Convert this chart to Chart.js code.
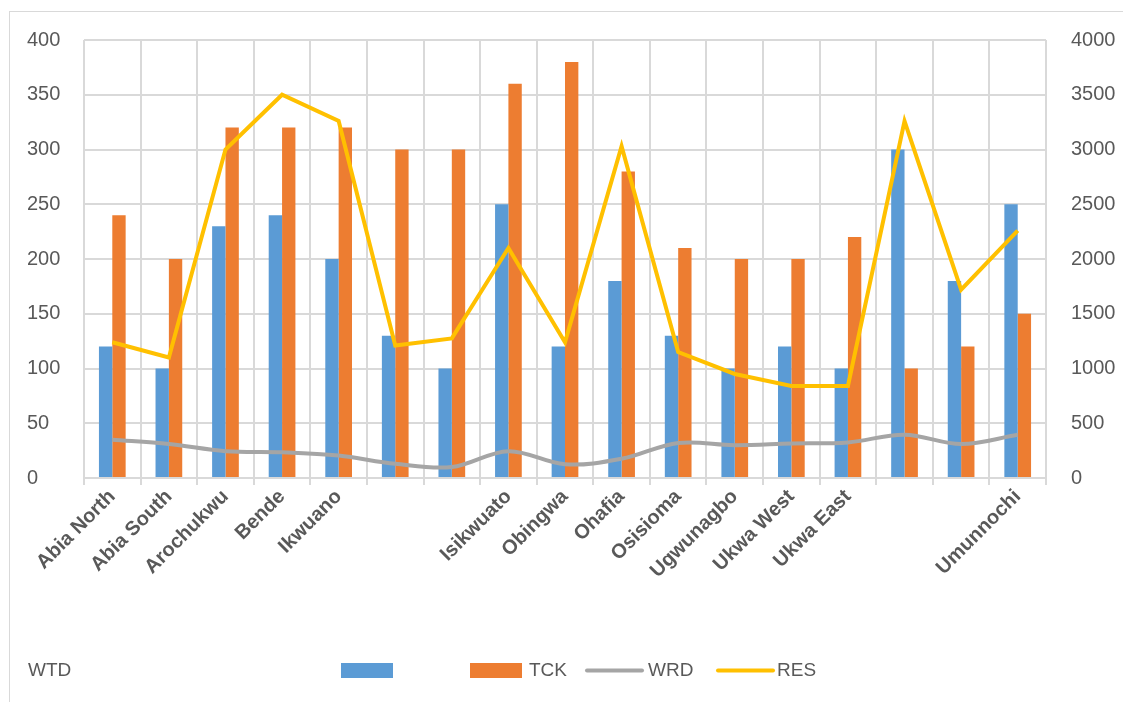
<!DOCTYPE html>
<html>
<head>
<meta charset="utf-8">
<title>WTD, TCK, WRD and RES by LGA</title>
<script src="https://cdn.jsdelivr.net/npm/chart.js@4/dist/chart.umd.min.js"></script>
<style>
  html, body { margin: 0; padding: 0; background: #ffffff; }
  #wrap { position: relative; width: 1123px; height: 702px; overflow: hidden; }
  #frame { position: absolute; left: 9px; top: 11px; right: -2px; bottom: -2px;
           border-left: 1px solid #d9d9d9; border-top: 1px solid #d9d9d9; }
  #chart { position: absolute; left: 0; top: 0; }
</style>
</head>
<body>
<div id="wrap">
  <div id="frame"></div>
  <canvas id="chart" width="1123" height="702"></canvas>
</div>
<script>
// Local government areas (blank entries carry no printed name)
const categories = ['Abia North', 'Abia South', 'Arochukwu', 'Bende', 'Ikwuano', '', '',
  'Isikwuato', 'Obingwa', 'Ohafia', 'Osisioma', 'Ugwunagbo', 'Ukwa West', 'Ukwa East', '', '', 'Umunnochi'];

// Bar series (left axis)
const wtd = [120, 100, 230, 240, 200, 130, 100, 250, 120, 180, 130, 100, 120, 100, 300, 180, 250];
const tck = [240, 200, 320, 320, 320, 300, 300, 360, 380, 280, 210, 200, 200, 220, 100, 120, 150];

// Line series (right axis)
const wrd = [350, 310, 245, 235, 205, 130, 100, 245, 125, 175, 320, 300, 315, 325, 395, 310, 395];
const res = [1240, 1100, 3000, 3500, 3260, 1210, 1275, 2100, 1240, 3030, 1150, 950, 840, 840, 3260, 1720, 2260];

// Series names
const seriesNames = ['WTD', 'TCK', 'WRD', 'RES'];

// Axis ranges
const leftAxis = { min: 0, max: 400, step: 50 };
const rightAxis = { min: 0, max: 4000, step: 500 };

const FONT = "'Liberation Sans', Arial, sans-serif";
const TEXT = '#595959';
const GRID = '#d9d9d9';
const COLORS = { wtd: '#5B9BD5', tck: '#ED7D31', wrd: '#A5A5A5', res: '#FFC000' };

// Legend laid out in one row under the plot
const legendPlugin = {
  id: 'rowLegend',
  afterDraw(chart) {
    const ctx = chart.ctx;
    const ds = chart.data.datasets;
    ctx.save();
    ctx.font = '19px ' + FONT;
    ctx.fillStyle = TEXT;
    ctx.textBaseline = 'middle';
    ctx.textAlign = 'left';
    const yMid = 670.5;
    // first series: name on the far left, swatch further along
    ctx.fillText(ds[2].label, 28, yMid);
    ctx.fillStyle = ds[2].backgroundColor;
    ctx.fillRect(341, 663, 52, 15);
    // second bar series
    ctx.fillStyle = ds[3].backgroundColor;
    ctx.fillRect(470, 663, 52, 15);
    ctx.fillStyle = TEXT;
    ctx.fillText(ds[3].label, 529, yMid);
    // line series
    const lines = [[ds[1], 587, 642, 648], [ds[0], 718, 773, 777]];
    lines.forEach(([d, x0, x1, tx]) => {
      ctx.strokeStyle = d.borderColor;
      ctx.lineWidth = 4;
      ctx.lineCap = 'round';
      ctx.beginPath();
      ctx.moveTo(x0, yMid);
      ctx.lineTo(x1, yMid);
      ctx.stroke();
      ctx.fillStyle = TEXT;
      ctx.fillText(d.label, tx, yMid);
    });
    ctx.restore();
  }
};

const plainNumber = (v) => String(v);

new Chart(document.getElementById('chart'), {
  data: {
    labels: categories,
    datasets: [
      { type: 'line', label: seriesNames[3], data: res, yAxisID: 'y1', order: 0,
        borderColor: COLORS.res, borderWidth: 4, pointRadius: 0, tension: 0, fill: false },
      { type: 'line', label: seriesNames[2], data: wrd, yAxisID: 'y1', order: 1,
        borderColor: COLORS.wrd, borderWidth: 4, pointRadius: 0, tension: 0.35, fill: false },
      { type: 'bar', label: seriesNames[0], data: wtd, yAxisID: 'y', order: 2,
        backgroundColor: COLORS.wtd, categoryPercentage: 0.472, barPercentage: 1.0 },
      { type: 'bar', label: seriesNames[1], data: tck, yAxisID: 'y', order: 3,
        backgroundColor: COLORS.tck, categoryPercentage: 0.472, barPercentage: 1.0 }
    ]
  },
  options: {
    responsive: false,
    animation: false,
    layout: { padding: { top: 40, left: 27, right: 0, bottom: 0 } },
    plugins: { legend: { display: false }, tooltip: { enabled: false } },
    scales: {
      x: {
        type: 'category',
        offset: true,
        grid: { offset: true, color: GRID, lineWidth: 2, drawTicks: true, tickLength: 7, tickColor: GRID },
        border: { color: GRID, width: 2 },
        ticks: {
          autoSkip: false, maxRotation: 45, minRotation: 45, padding: 0,
          color: TEXT, font: { family: FONT, size: 20, weight: 'bold' }
        },
        afterFit(scale) { scale.height = 224; }
      },
      y: {
        position: 'left',
        min: leftAxis.min, max: leftAxis.max,
        grid: { color: GRID, lineWidth: 2, drawTicks: false },
        border: { display: false },
        ticks: { stepSize: leftAxis.step, crossAlign: 'far', padding: 10, callback: plainNumber,
          color: TEXT, font: { family: FONT, size: 20 } },
        afterFit(scale) { scale.width = 57; }
      },
      y1: {
        position: 'right',
        min: rightAxis.min, max: rightAxis.max,
        grid: { display: false, drawOnChartArea: false, drawTicks: false },
        border: { display: false },
        ticks: { stepSize: rightAxis.step, padding: 25, callback: plainNumber,
          color: TEXT, font: { family: FONT, size: 20 } },
        afterFit(scale) { scale.width = 77; }
      }
    }
  },
  plugins: [legendPlugin]
});
</script>
</body>
</html>
